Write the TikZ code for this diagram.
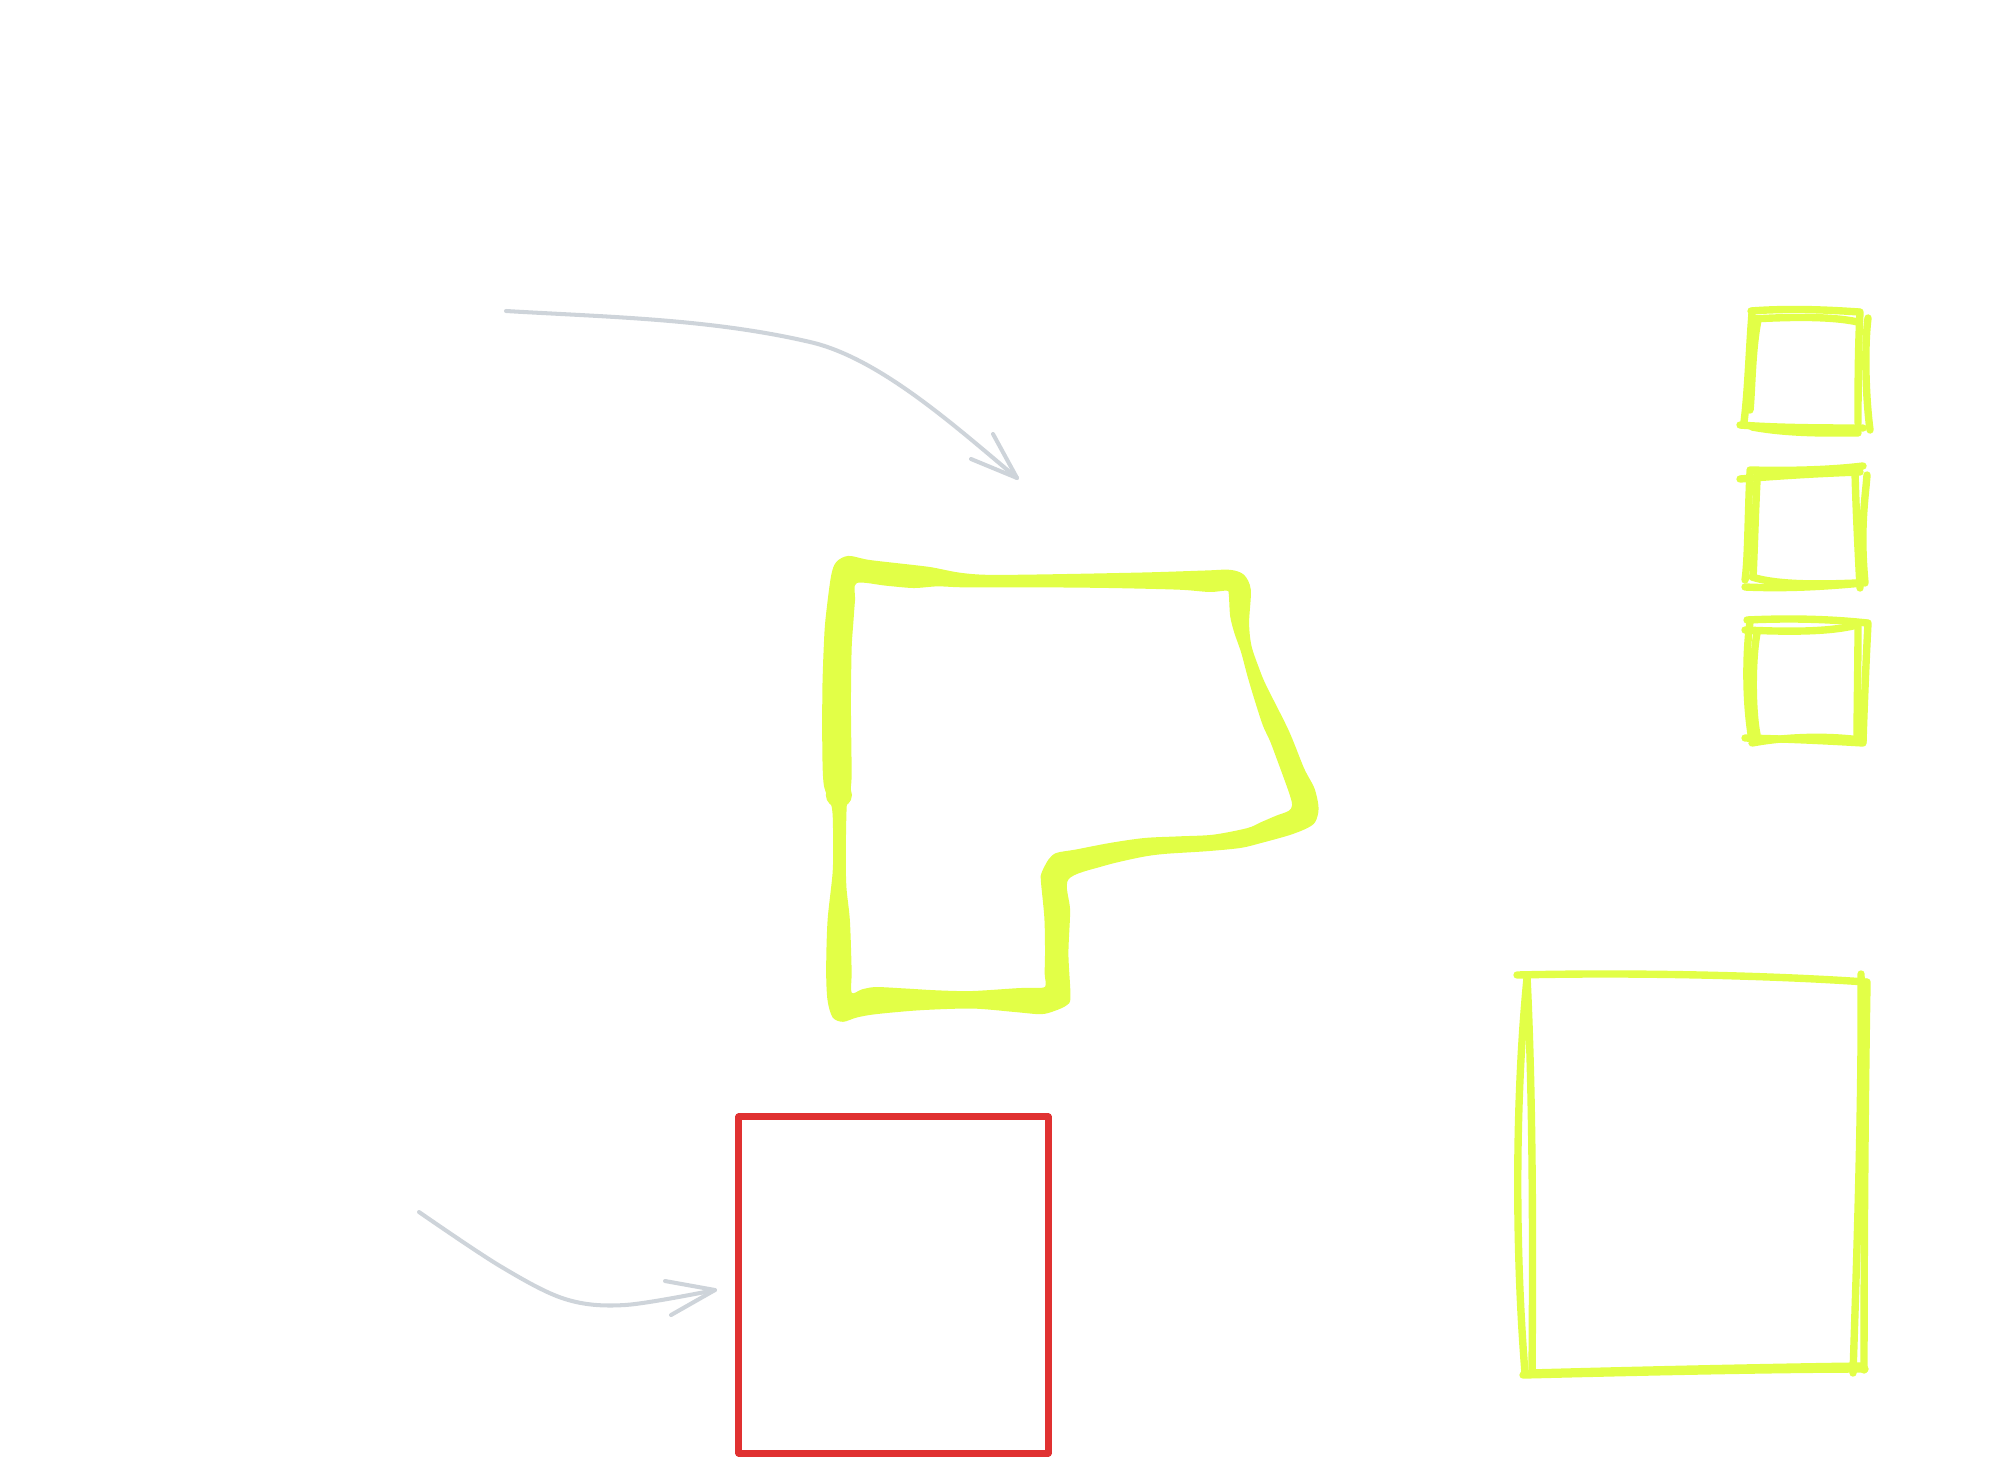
\documentclass[tikz,border=0pt]{standalone}
\definecolor{hl}{HTML}{E2FF47}
\definecolor{redc}{HTML}{E03131}
\definecolor{arr}{HTML}{CED4DA}
\begin{document}
\begin{tikzpicture}[x=0.01cm,y=-0.01cm,
  arrowline/.style={draw=arr,line width=1.15pt,line cap=round,line join=round},
  roughline/.style={draw=hl,line width=2.1pt,line cap=round,line join=round},
  redbox/.style={draw=redc,line width=2pt,line join=round,inner sep=0pt,minimum width=3.09cm,minimum height=3.36cm}]
\useasboundingbox (0,0) rectangle (1989,1473);

% red box
\node[redbox] (rb) at (893.5,1285) {};

% upper arrow
\coordinate (a1s) at (506,311);
\coordinate (a1m) at (810,342);
\coordinate (a1t) at (1017,478);
\draw[arrowline] (a1s) .. controls (606,317) and (710,318.7) .. (a1m) .. controls (880,358) and (957,428) .. (a1t);
\draw[arrowline] (993,434) -- (a1t) -- (971,459);

% lower arrow
\coordinate (a2s) at (419,1212);
\coordinate (a2t) at (715,1290);
\draw[arrowline] plot[smooth,tension=0.55] coordinates {(a2s) (500,1266) (565,1299) (625,1305) (a2t)};
\draw[arrowline] (665,1281) -- (a2t) -- (671,1315);

% big freehand polygon
\begin{scope}[shift={(800,540)},x=0.0344mm,y=-0.0331mm]
\fill[hl,even odd rule]
 plot[smooth cycle,tension=0.5] coordinates {
 (140,48) (200,60) (300,72) (380,82) (460,98) (540,105) (700,104) (1000,98) (1180,92) (1250,90) (1290,105) (1310,150) (1305,250) (1312,320) (1335,390) (1355,440) (1420,575) (1465,690) (1495,750) (1507,810) (1497,852) (1470,872) (1420,892) (1340,915) (1280,930) (1180,940) (1060,948) (990,958) (880,985) (780,1025) (785,1120) (780,1250) (786,1380) (775,1405) (740,1422) (700,1432) (620,1425) (500,1415) (350,1420) (220,1432) (165,1442) (125,1455) (95,1442) (80,1390) (76,1300) (80,1150) (95,1000) (96,880) (92,805) (70,745) (65,650) (65,450) (70,300) (75,230) (90,110) (105,67)}
 plot[smooth cycle,tension=0.5] coordinates {
 (165,130) (250,138) (330,145) (400,140) (480,143) (700,143) (900,145) (1100,150) (1190,157) (1240,153) (1246,165) (1250,230) (1262,280) (1282,340) (1300,410) (1320,480) (1345,560) (1365,605) (1385,660) (1420,760) (1430,800) (1420,818) (1385,832) (1340,852) (1300,870) (1200,890) (1100,895) (1000,900) (900,915) (800,935) (745,945) (722,965) (702,1005) (700,1030) (710,1140) (712,1240) (711,1310) (714,1340) (705,1352) (640,1353) (500,1362) (400,1360) (300,1354) (220,1350) (180,1357) (150,1367) (150,1300) (145,1150) (135,1050) (133,950) (136,800) (145,790) (148,745) (150,700) (148,500) (150,330) (155,250) (160,180)};
\fill[hl] (113,770) circle (38);
\end{scope}

% small square 1
\draw[roughline] (1751,311) .. controls (1790,308) and (1830,310) .. (1859,312);
\draw[roughline] (1752,319) .. controls (1790,317) and (1830,316) .. (1858,322);
\draw[roughline] (1752,313) .. controls (1749,350) and (1748,390) .. (1744,422);
\draw[roughline] (1758,320) .. controls (1752,350) and (1752,390) .. (1750,410);
\draw[roughline] (1860,312) .. controls (1858,350) and (1858,390) .. (1858,423);
\draw[roughline] (1868,318) .. controls (1864,350) and (1866,400) .. (1870,430);
\draw[roughline] (1740,425) .. controls (1780,428) and (1830,428) .. (1863,428);
\draw[roughline] (1752,427) .. controls (1790,434) and (1830,433) .. (1858,433);

% small square 2
\draw[roughline] (1750,470) .. controls (1790,471) and (1830,470) .. (1863,466);
\draw[roughline] (1740,479) .. controls (1790,475) and (1830,473) .. (1860,472);
\draw[roughline] (1750,472) .. controls (1748,510) and (1748,560) .. (1745,580);
\draw[roughline] (1757,480) .. controls (1755,520) and (1754,560) .. (1753,577);
\draw[roughline] (1855,473) .. controls (1856,510) and (1858,550) .. (1860,588);
\draw[roughline] (1867,475) .. controls (1865,500) and (1860,530) .. (1865,583);
\draw[roughline] (1745,587) .. controls (1790,589) and (1830,586) .. (1863,583);
\draw[roughline] (1752,577) .. controls (1780,586) and (1830,584) .. (1857,583);

% small square 3
\draw[roughline] (1747,620) .. controls (1790,618) and (1830,619) .. (1867,623);
\draw[roughline] (1745,630) .. controls (1790,632) and (1830,632) .. (1857,625);
\draw[roughline] (1750,622) .. controls (1746,650) and (1745,700) .. (1752,740);
\draw[roughline] (1757,633) .. controls (1752,660) and (1752,710) .. (1757,735);
\draw[roughline] (1868,623) .. controls (1866,660) and (1864,710) .. (1863,742);
\draw[roughline] (1858,625) .. controls (1858,660) and (1857,710) .. (1857,737);
\draw[roughline] (1745,738) .. controls (1790,739) and (1830,741) .. (1863,743);
\draw[roughline] (1752,743) .. controls (1790,736) and (1830,736) .. (1860,740);

% large square
\draw[roughline] (1517,975) .. controls (1640,972) and (1780,976) .. (1866,982);
\draw[roughline] (1527,977) .. controls (1533,1100) and (1533,1250) .. (1532,1373);
\draw[roughline] (1527,978) .. controls (1515,1100) and (1515,1250) .. (1525,1373);
\draw[roughline] (1861,974) .. controls (1862,1100) and (1857,1250) .. (1853,1373);
\draw[roughline] (1867,982) .. controls (1865,1100) and (1864,1250) .. (1864,1370);
\draw[roughline] (1523,1375) .. controls (1640,1372) and (1780,1369) .. (1865,1369);
\draw[roughline] (1530,1373) .. controls (1640,1370) and (1780,1367) .. (1862,1366);
\end{tikzpicture}
\end{document}
